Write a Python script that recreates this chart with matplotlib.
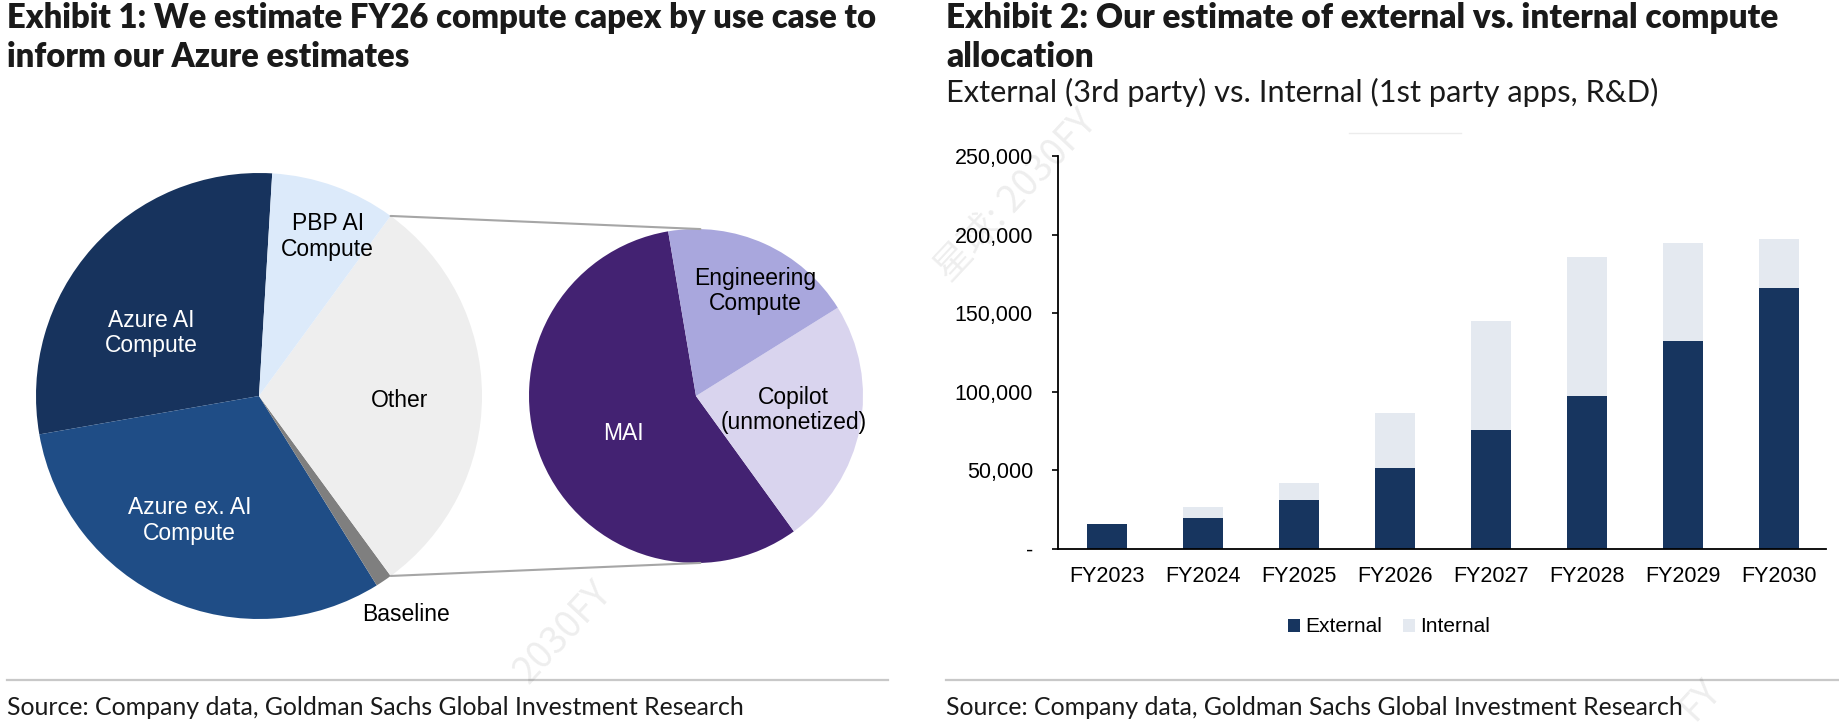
import matplotlib
matplotlib.use("Agg")
import matplotlib.pyplot as plt
import numpy as np
from matplotlib.lines import Line2D
from matplotlib.patches import ConnectionPatch
from matplotlib.ticker import FuncFormatter

# Exhibit 1: FY26 compute capex split (share of pie, %)
main_labels = ["Azure AI\nCompute", "Azure ex. AI\nCompute", "Baseline", "Other", "PBP AI\nCompute"]
main_values = [28.7, 31.1, 1.2, 29.9, 9.1]
other_labels = ["MAI", "Copilot\n(unmonetized)", "Engineering\nCompute"]
other_values = [57.3, 23.9, 18.8]

# Exhibit 2: external vs internal compute
years = ["FY2023", "FY2024", "FY2025", "FY2026", "FY2027", "FY2028", "FY2029", "FY2030"]
external = [16000, 20000, 31000, 51500, 76000, 97500, 132500, 166000]
internal = [0, 7000, 11000, 35000, 69000, 88000, 62000, 31500]

W, H = 1840, 726
def fx(x):
    return x / W
def fy(y):
    return 1 - y / H

fig = plt.figure(figsize=(W / 100, H / 100), dpi=100)
chart_font = "Liberation Sans"
text_font = "Lato"

# ---- pie of pie ----
main_colors = ["#17335d", "#1f4d86", "#7f7f7f", "#eeeeee", "#dceafa"]
other_colors = ["#432272", "#d9d4ee", "#a9a7dd"]

ax1 = fig.add_axes([fx(36), fy(619), 446 / W, 446 / H])
w1, _ = ax1.pie(main_values, colors=main_colors, startangle=86.6, counterclock=True,
                wedgeprops=dict(linewidth=0))
ax1.set_xlim(-1, 1)
ax1.set_ylim(-1, 1)
ax1.axis("off")

ax2 = fig.add_axes([fx(529), fy(563), 334 / W, 334 / H])
w2, _ = ax2.pie(other_values, colors=other_colors, startangle=99.6, counterclock=True,
                wedgeprops=dict(linewidth=0))
ax2.set_xlim(-1, 1)
ax2.set_ylim(-1, 1)
ax2.axis("off")

# label placement (radius, angle) per slice
main_pos = [(0.56, 149.7), (0.64, 240.8), (1.18, -56), (0.63, -2), (0.78, 66.7)]
main_txt = ["white", "white", "black", "black", "black"]
for lab, (r, a), c in zip(main_labels, main_pos, main_txt):
    ax1.text(r * np.cos(np.radians(a)), r * np.sin(np.radians(a)), lab, ha="center", va="center",
             color=c, fontsize=16.5, family=chart_font, linespacing=1.15)

other_pos = [(0.49, 207.5), (0.59, -8.2), (0.72, 60.7)]
other_txt = ["white", "black", "black"]
for lab, (r, a), c in zip(other_labels, other_pos, other_txt):
    ax2.text(r * np.cos(np.radians(a)), r * np.sin(np.radians(a)), lab, ha="center", va="center",
             color=c, fontsize=16.5, family=chart_font, linespacing=1.15)

# connector lines from the "Other" slice to the second pie
oth = w1[3]
for ang, end in [(oth.theta2, 88.5), (oth.theta1, -88.5)]:
    con = ConnectionPatch(xyA=(np.cos(np.radians(ang)), np.sin(np.radians(ang))), coordsA="data", axesA=ax1,
                          xyB=(np.cos(np.radians(end)), np.sin(np.radians(end))), coordsB="data", axesB=ax2,
                          color="#a6a6a6", linewidth=1.5)
    fig.add_artist(con)

# ---- stacked bars ----
ax = fig.add_axes([fx(1058), fy(549), (1826 - 1058) / W, (549 - 156) / H])
x = np.arange(len(years))
ax.bar(x, external, width=0.41, color="#17355f", label="External")
ax.bar(x, internal, width=0.41, bottom=external, color="#e4e9f0", label="Internal")
ax.set_xlim(-0.51, len(years) - 0.51)
ax.set_ylim(0, 250000)
ax.set_yticks(np.arange(0, 250001, 50000))
ax.yaxis.set_major_formatter(FuncFormatter(lambda v, _: "-" if v == 0 else f"{v:,.0f}"))
ax.set_xticks(x)
ax.set_xticklabels(years)
for s in ["top", "right"]:
    ax.spines[s].set_visible(False)
for s in ["left", "bottom"]:
    ax.spines[s].set_linewidth(1.3)
ax.tick_params(axis="y", length=4, width=1.2, pad=14, labelsize=15.5)
ax.tick_params(axis="x", length=0, pad=12, labelsize=15.5)
for t in ax.get_xticklabels() + ax.get_yticklabels():
    t.set_family(chart_font)
ax.legend(loc="center", bbox_to_anchor=(fx(1389), fy(627)), bbox_transform=fig.transFigure,
          ncol=2, frameon=False, handlelength=0.6, handleheight=0.6, handletextpad=0.25,
          columnspacing=1.0, prop=dict(family=chart_font, size=15))

# ---- titles, subtitle, source ----
ink = "#1a1a1a"
t1a = fig.text(fx(7), fy(28), "Exhibit 1: We estimate FY26 compute capex by use case to",
               family=text_font, weight=800, fontsize=20, va="baseline", color=ink)
t1b = fig.text(fx(7), fy(67), "inform our Azure estimates",
               family=text_font, weight=800, fontsize=20, va="baseline", color=ink)
t2a = fig.text(fx(946), fy(28), "Exhibit 2: Our estimate of external vs. internal compute",
               family=text_font, weight=800, fontsize=20, va="baseline", color=ink)
t2b = fig.text(fx(946), fy(67), "allocation",
               family=text_font, weight=800, fontsize=20, va="baseline", color=ink)
sub = fig.text(fx(946), fy(102), "External (3rd party) vs. Internal (1st party apps, R&D)",
               family=text_font, fontsize=18, va="baseline", color=ink)
src1 = fig.text(fx(7), fy(715), "Source: Company data, Goldman Sachs Global Investment Research",
                family=text_font, fontsize=17, va="baseline", color=ink)
src2 = fig.text(fx(946), fy(715), "Source: Company data, Goldman Sachs Global Investment Research",
                family=text_font, fontsize=17, va="baseline", color=ink)

# scale fonts so that line widths match the original
fig.canvas.draw()
rend = fig.canvas.get_renderer()
for group, target in [((t1a, t1b), 870), ((t2a, t2b), 832), ((sub,), 712), ((src1, src2), 738)]:
    wpx = group[0].get_window_extent(rend).width
    for t in group:
        t.set_fontsize(t.get_fontsize() * target / wpx)

# rules above the source lines and a faint stray line
fig.add_artist(Line2D([fx(7), fx(888)], [fy(680), fy(680)], color="#c8c8c8", lw=1.6))
fig.add_artist(Line2D([fx(946), fx(1840)], [fy(680), fy(680)], color="#c8c8c8", lw=1.6))
fig.add_artist(Line2D([fx(1349), fx(1461)], [fy(133), fy(133)], color="#ececec", lw=1.0))

# faint watermarks (only the parts that show in the screenshot)
for txt, cx, cy in [("星球: 2030FY", 1016, 196), ("2030FY", 563, 633), ("FY", 1700, 700)]:
    fig.text(fx(cx), fy(cy), txt, rotation=47, ha="center", va="center", fontsize=27,
             family=["Noto Sans CJK SC", "DejaVu Sans"], color="#000000", alpha=0.07)

fig.savefig("out.png", dpi=100)
plt.close()
